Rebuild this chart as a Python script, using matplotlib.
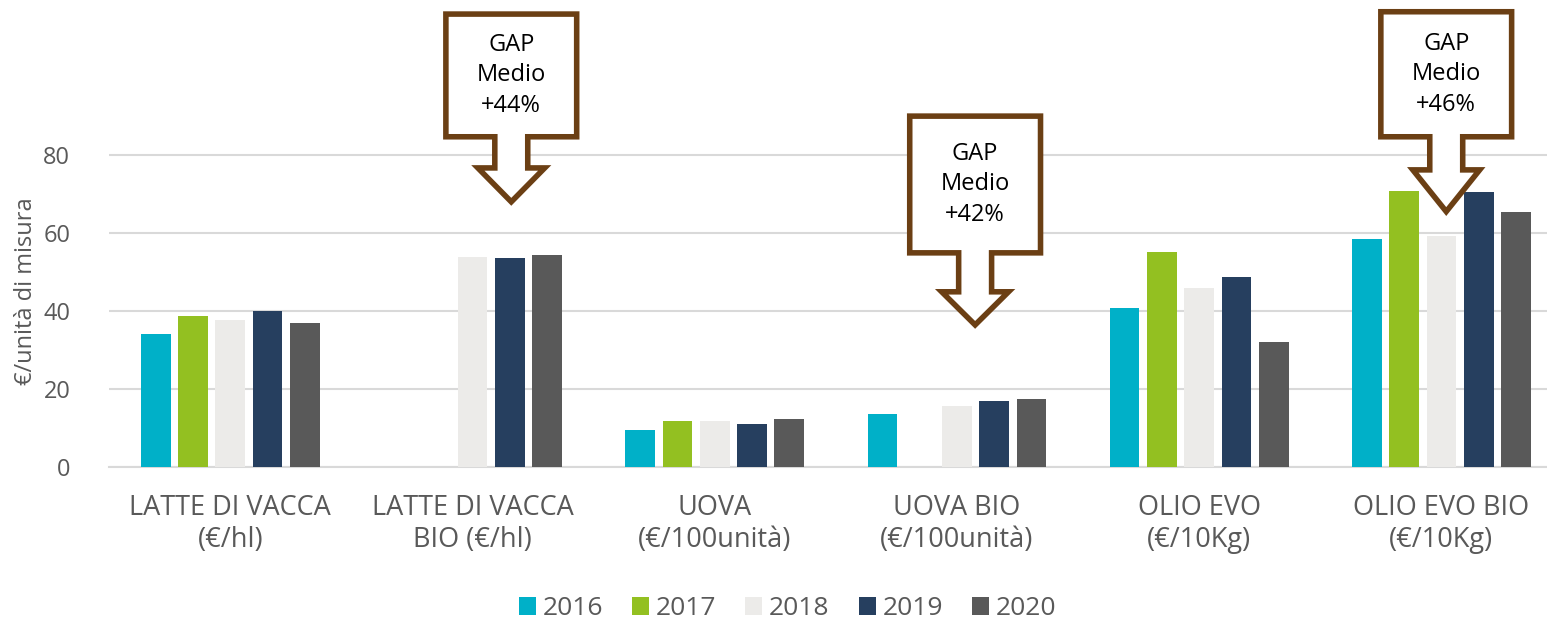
import numpy as np
import matplotlib
matplotlib.use("Agg")
import matplotlib.pyplot as plt
from matplotlib.patches import Polygon

plt.rcParams['font.family'] = ['Open Sans', 'DejaVu Sans']

categorie = ["LATTE DI VACCA\n(€/hl)", "LATTE DI VACCA\nBIO (€/hl)", "UOVA\n(€/100unità)",
             "UOVA BIO\n(€/100unità)", "OLIO EVO\n(€/10Kg)", "OLIO EVO BIO\n(€/10Kg)"]
anni = ["2016", "2017", "2018", "2019", "2020"]
v2016 = [34.1, np.nan, 9.3, 13.6, 40.7, 58.4]
v2017 = [38.7, np.nan, 11.6, np.nan, 55.2, 70.8]
v2018 = [37.6, 53.8, 11.6, 15.6, 45.9, 59.2]
v2019 = [39.9, 53.6, 11.0, 16.9, 48.7, 70.5]
v2020 = [37.0, 54.3, 12.3, 17.4, 32.1, 65.5]
serie = [v2016, v2017, v2018, v2019, v2020]
colori = ["#00B0C8", "#93C021", "#ECEBE9", "#263F5F", "#595959"]

# callout: (centro x, testo)
gap_x = [1.16, 3.075, 5.02]
gap_txt = ["GAP\nMedio\n+44%", "GAP\nMedio\n+42%", "GAP\nMedio\n+46%"]
# (top box, bottom box, base punta, punta)
gap_y = [(116.2, 84.7, 76.7, 68.0), (90.0, 54.9, 44.9, 36.4), (116.8, 84.7, 76.2, 65.5)]

fig = plt.figure(figsize=(15.47, 6.21), dpi=100)
ax = fig.add_axes([109.2 / 1547, 0.2485, 1 - 109.2 / 1547, 0.5645])

x = np.arange(len(categorie))
w = 0.1226
step = 0.154
for i, (vals, c, a) in enumerate(zip(serie, colori, anni)):
    ax.bar(x + (i - 2) * step, vals, width=w, color=c, label=a, zorder=3)

ax.set_xlim(-0.5, 5.436)
ax.set_ylim(0, 90)
ax.set_yticks([0, 20, 40, 60, 80])
ax.yaxis.grid(True, color="#D9D9D9", linewidth=1.5, zorder=0)
for s in ["top", "right", "left"]:
    ax.spines[s].set_visible(False)
ax.spines["bottom"].set_color("#D9D9D9")
ax.spines["bottom"].set_linewidth(1.5)
ax.tick_params(axis="both", length=0, colors="#595959")
ax.tick_params(axis="y", pad=28, labelsize=17)
ax.tick_params(axis="x", pad=20, labelsize=19.5)
ax.set_xticks(x)
ax.set_xticklabels(categorie, linespacing=1.15)
ax.set_ylabel("€/unità di misura", fontsize=17, color="#595959", labelpad=4)

# callout a freccia
bw, sw, hw = 0.27, 0.068, 0.138
for cx, t, (yt, yb, yh, ytip) in zip(gap_x, gap_txt, gap_y):
    pts = [(cx - bw, yt), (cx + bw, yt), (cx + bw, yb), (cx + sw, yb), (cx + sw, yh),
           (cx + hw, yh), (cx, ytip), (cx - hw, yh), (cx - sw, yh), (cx - sw, yb),
           (cx - bw, yb)]
    ax.add_patch(Polygon(pts, closed=True, facecolor="white", edgecolor="#6B3F14",
                         linewidth=4, joinstyle="miter", clip_on=False, zorder=5))
    ax.text(cx, (yt + yb) / 2, t, ha="center", va="center", fontsize=17,
            color="black", linespacing=1.35, zorder=6, clip_on=False)

fig.legend(*ax.get_legend_handles_labels(), loc="center", bbox_to_anchor=(0.509, 0.02),
           ncol=5, frameon=False, fontsize=19, handlelength=0.65, handleheight=0.65,
           handletextpad=0.25, columnspacing=1.1, labelcolor="#595959")

fig.savefig("out.png", dpi=100)
